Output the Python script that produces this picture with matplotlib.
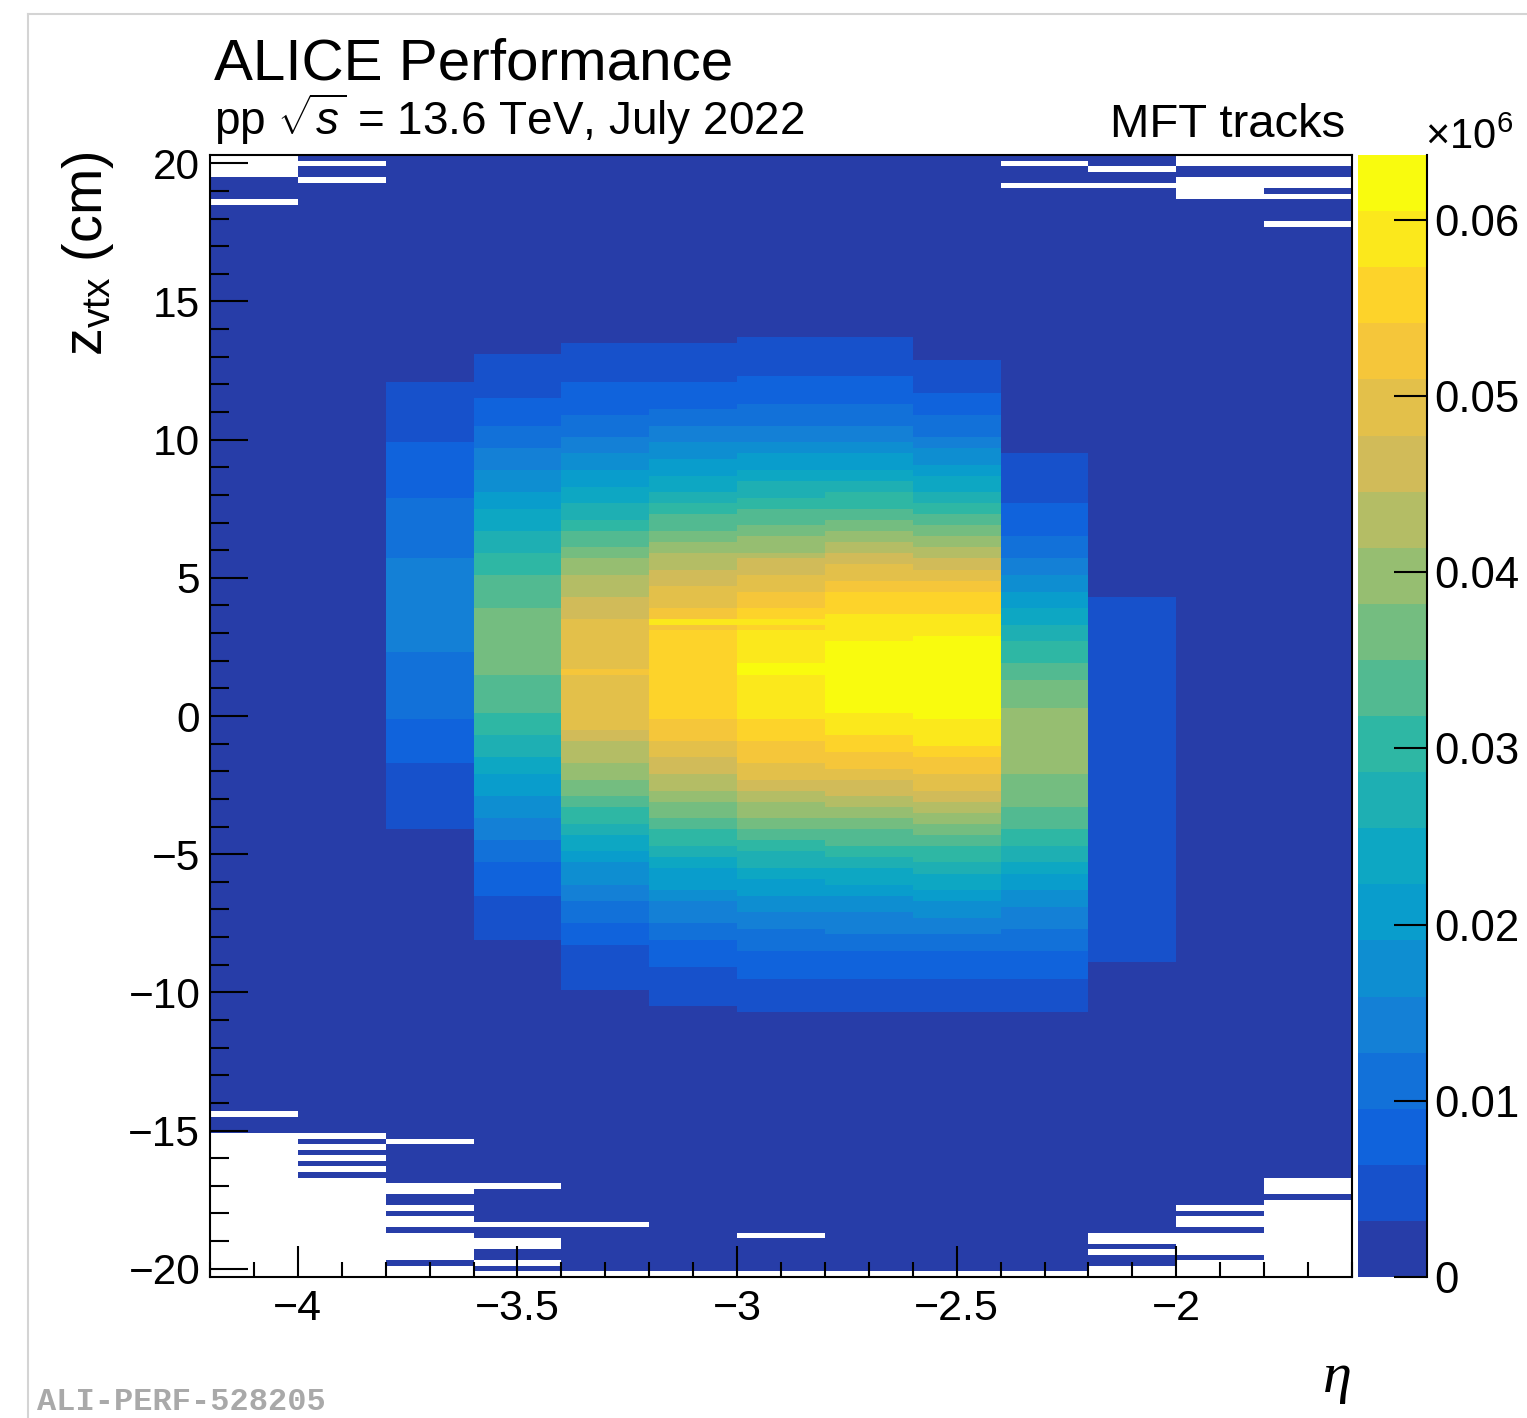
import numpy as np
import matplotlib
matplotlib.use("Agg")
import matplotlib.pyplot as plt
from matplotlib.colors import ListedColormap, BoundaryNorm
from matplotlib.lines import Line2D

plt.rcParams['font.family'] = ['Liberation Sans', 'DejaVu Sans']
plt.rcParams['mathtext.fontset'] = 'custom'
plt.rcParams['mathtext.rm'] = 'Liberation Sans'
plt.rcParams['mathtext.it'] = 'Liberation Sans:italic'
plt.rcParams['mathtext.bf'] = 'Liberation Sans:bold'

# ---------------- data ----------------
eta_edges = np.round(np.arange(-4.2, -1.59, 0.2), 2)      # 13 eta bins
zvtx_edges = np.round(np.arange(-20.3, 20.31, 0.2), 2)    # 203 z bins
zmax = 0.06368  # colour scale maximum (x10^6 counts)

# per eta column: z values (cm, descending) where the count level changes,
# and the counts (x10^3) of each band from top to bottom
cuts_c0 = []
cnt_c0 = [1.6]
cuts_c1 = []
cnt_c1 = [1.6]
cuts_c2 = [12.1, 9.9, 7.9, 5.7, 2.3, -0.1, -1.7, -4.1]
cnt_c2 = [1.6, 4.8, 8.0, 11.1, 14.3, 11.1, 8.0, 4.8, 1.6]
cuts_c3 = [13.1, 11.5, 10.5, 9.7, 8.9, 8.1, 7.5, 6.7, 5.9, 5.1, 3.9, 1.5, 0.1,
           -0.7, -1.5, -2.1, -2.9, -3.7, -4.5, -5.3, -6.5, -8.1]
cnt_c3 = [1.6, 4.8, 8.0, 11.1, 14.3, 17.5, 20.7, 23.9, 27.1, 30.2, 33.4, 36.6,
          33.4, 30.2, 27.1, 23.9, 20.7, 17.5, 14.3, 11.1, 8.0, 4.8, 1.6]
cuts_c4 = [13.5, 12.1, 10.9, 10.1, 9.5, 8.9, 8.3, 7.7, 7.1, 6.7, 6.1, 5.7, 5.1,
           4.3, 3.5, 1.7, 1.5, -0.5, -0.9, -1.7, -2.3, -2.9, -3.3, -3.9, -4.3,
           -4.9, -5.3, -6.1, -6.7, -7.5, -8.3, -9.9]
cnt_c4 = [1.6, 4.8, 8.0, 11.1, 14.3, 17.5, 20.7, 23.9, 27.1, 30.2, 33.4, 36.6,
          39.8, 43.0, 46.2, 49.4, 52.5, 49.4, 46.2, 43.0, 39.8, 36.6, 33.4,
          30.2, 27.1, 23.9, 20.7, 17.5, 14.3, 11.1, 8.0, 4.8, 1.6]
cuts_c5 = [13.5, 12.1, 11.1, 10.5, 9.9, 9.3, 8.7, 8.1, 7.7, 7.3, 6.7, 6.3, 5.9,
           5.3, 4.7, 3.9, 3.5, 3.3, 3.1, -0.1, -0.9, -1.5, -2.1, -2.7, -3.1,
           -3.7, -4.1, -4.7, -5.1, -5.5, -6.3, -6.7, -7.5, -8.1, -9.1, -10.5]
cnt_c5 = [1.6, 4.8, 8.0, 11.1, 14.3, 17.5, 20.7, 23.9, 27.1, 30.2, 33.4, 36.6,
          39.8, 43.0, 46.2, 49.4, 52.5, 58.9, 52.5, 55.7, 52.5, 49.4, 46.2,
          43.0, 39.8, 36.6, 33.4, 30.2, 27.1, 23.9, 20.7, 17.5, 14.3, 11.1,
          8.0, 4.8, 1.6]
cuts_c6 = [13.7, 12.3, 11.3, 10.5, 9.9, 9.5, 8.9, 8.5, 7.9, 7.5, 6.9, 6.5, 5.9,
           5.7, 5.1, 4.5, 3.9, 3.5, 3.3, 3.1, 1.9, 1.5, -0.1, -0.9, -1.7, -2.3,
           -2.7, -3.1, -3.7, -4.1, -4.5, -4.9, -5.5, -5.9, -6.5, -7.1, -7.7,
           -8.5, -9.5, -10.7]
cnt_c6 = [1.6, 4.8, 8.0, 11.1, 14.3, 17.5, 20.7, 23.9, 27.1, 30.2, 33.4, 36.6,
          39.8, 43.0, 46.2, 49.4, 52.5, 55.7, 58.9, 55.7, 58.9, 62.1, 58.9,
          55.7, 52.5, 49.4, 46.2, 43.0, 39.8, 36.6, 33.4, 30.2, 27.1, 23.9,
          20.7, 17.5, 14.3, 11.1, 8.0, 4.8, 1.6]
cuts_c7 = [13.7, 12.3, 11.3, 10.5, 9.9, 9.5, 8.9, 8.5, 8.1, 7.5, 7.1, 6.7, 6.3,
           5.9, 5.5, 4.9, 4.5, 3.7, 2.7, 0.1, -0.7, -1.3, -1.9, -2.3, -2.9,
           -3.3, -3.7, -4.1, -4.7, -5.1, -5.5, -6.1, -6.5, -7.1, -7.9, -8.5,
           -9.5, -10.7]
cnt_c7 = [1.6, 4.8, 8.0, 11.1, 14.3, 17.5, 20.7, 23.9, 27.1, 30.2, 33.4, 36.6,
          39.8, 43.0, 46.2, 49.4, 52.5, 55.7, 58.9, 62.1, 58.9, 55.7, 52.5,
          49.4, 46.2, 43.0, 39.8, 36.6, 33.4, 30.2, 27.1, 23.9, 20.7, 17.5,
          14.3, 11.1, 8.0, 4.8, 1.6]
cuts_c8 = [12.9, 11.7, 10.9, 10.1, 9.7, 9.1, 8.7, 8.1, 7.7, 7.3, 6.9, 6.5, 6.1,
           5.7, 5.3, 4.9, 4.5, 3.7, 2.9, -0.1, -1.1, -1.5, -2.1, -2.7, -3.1,
           -3.5, -3.9, -4.3, -4.7, -5.3, -5.7, -6.3, -6.7, -7.3, -7.9, -8.5,
           -9.5, -10.7]
cnt_c8 = [1.6, 4.8, 8.0, 11.1, 14.3, 17.5, 20.7, 23.9, 27.1, 30.2, 33.4, 36.6,
          39.8, 43.0, 46.2, 49.4, 52.5, 55.7, 58.9, 62.1, 58.9, 55.7, 52.5,
          49.4, 46.2, 43.0, 39.8, 36.6, 33.4, 30.2, 27.1, 23.9, 20.7, 17.5,
          14.3, 11.1, 8.0, 4.8, 1.6]
cuts_c9 = [9.5, 7.7, 6.5, 5.7, 5.1, 4.5, 3.9, 3.3, 2.7, 1.9, 1.3, 0.3, -2.1,
           -3.3, -4.1, -4.7, -5.3, -5.7, -6.3, -6.9, -7.7, -8.5, -9.5, -10.7]
cnt_c9 = [1.6, 4.8, 8.0, 11.1, 14.3, 17.5, 20.7, 23.9, 27.1, 30.2, 33.4, 36.6,
          39.8, 36.6, 33.4, 30.2, 27.1, 23.9, 20.7, 17.5, 14.3, 11.1, 8.0,
          4.8, 1.6]
cuts_c10 = [4.3, -8.9]
cnt_c10 = [1.6, 4.8, 1.6]
cuts_c11 = []
cnt_c11 = [1.6]
cuts_c12 = []
cnt_c12 = [1.6]

# empty (zero-count) z ranges per eta column
empty_c0 = [(19.5, 20.3), (18.5, 18.7), (-14.5, -14.3), (-20.3, -15.1)]
empty_c1 = [(19.9, 20.1), (19.3, 19.5), (-15.3, -15.1), (-15.7, -15.5),
            (-16.1, -15.9), (-16.5, -16.3), (-20.3, -16.7)]
empty_c2 = [(-15.5, -15.3), (-17.3, -16.9), (-17.9, -17.7), (-18.5, -18.1),
            (-19.7, -18.7), (-20.3, -19.9)]
empty_c3 = [(-17.1, -16.9), (-18.5, -18.3), (-19.3, -18.9), (-19.9, -19.7),
            (-20.3, -20.1)]
empty_c4 = [(-18.5, -18.3), (-20.3, -20.1)]
empty_c5 = [(-20.3, -20.1)]
empty_c6 = [(-18.9, -18.7), (-20.3, -20.1)]
empty_c7 = [(-20.3, -20.1)]
empty_c8 = [(-20.3, -20.1)]
empty_c9 = [(19.9, 20.1), (19.1, 19.3), (-20.3, -20.1)]
empty_c10 = [(19.7, 19.9), (19.1, 19.3), (-19.1, -18.7), (-19.5, -19.3),
             (-20.3, -19.9)]
empty_c11 = [(19.9, 20.3), (18.7, 19.5), (-17.9, -17.7), (-18.5, -18.1),
             (-19.5, -18.7), (-20.3, -19.7)]
empty_c12 = [(19.9, 20.3), (19.1, 19.5), (18.7, 18.9), (17.7, 17.9),
             (-17.3, -16.7), (-20.3, -17.5)]

xticks = [-4, -3.5, -3, -2.5, -2]
xticklabels = ['\u22124', '\u22123.5', '\u22123', '\u22122.5', '\u22122']
yticks = [-20, -15, -10, -5, 0, 5, 10, 15, 20]
yticklabels = ['\u221220', '\u221215', '\u221210', '\u22125', '0', '5', '10', '15', '20']
cbar_ticks = [0, 0.01, 0.02, 0.03, 0.04, 0.05, 0.06]
cbar_ticklabels = ['0', '0.01', '0.02', '0.03', '0.04', '0.05', '0.06']

# ---------------- build histogram ----------------
columns = [
    (cuts_c0, cnt_c0, empty_c0), (cuts_c1, cnt_c1, empty_c1),
    (cuts_c2, cnt_c2, empty_c2), (cuts_c3, cnt_c3, empty_c3),
    (cuts_c4, cnt_c4, empty_c4), (cuts_c5, cnt_c5, empty_c5),
    (cuts_c6, cnt_c6, empty_c6), (cuts_c7, cnt_c7, empty_c7),
    (cuts_c8, cnt_c8, empty_c8), (cuts_c9, cnt_c9, empty_c9),
    (cuts_c10, cnt_c10, empty_c10), (cuts_c11, cnt_c11, empty_c11),
    (cuts_c12, cnt_c12, empty_c12),
]
zc = 0.5 * (zvtx_edges[:-1] + zvtx_edges[1:])
H = np.full((len(zc), len(eta_edges) - 1), np.nan)
for j, (cuts, cnts, empt) in enumerate(columns):
    asc = np.array(cuts[::-1], dtype=float)
    idx = len(cuts) - np.searchsorted(asc, zc, side='right')
    col = np.array(cnts, dtype=float)[idx]
    for lo, hi in empt:
        col[(zc > lo) & (zc < hi)] = np.nan
    H[:, j] = col
H = np.ma.masked_invalid(H / 1000.0)   # x10^6 counts

# ROOT kBird palette, 20 contour colours
stops = np.array([0.0, 0.125, 0.25, 0.375, 0.5, 0.625, 0.75, 0.875, 1.0])
red = [0.2082, 0.0592, 0.0780, 0.0232, 0.1802, 0.5301, 0.8186, 0.9956, 0.9764]
green = [0.1664, 0.3599, 0.5041, 0.6419, 0.7178, 0.7492, 0.7328, 0.7862, 0.9832]
blue = [0.5293, 0.8684, 0.8385, 0.7914, 0.6425, 0.4662, 0.3499, 0.1968, 0.0539]
ncont = 20
tpos = np.array([int((i + 0.99) * 255 / ncont) for i in range(ncont)]) / 254.0
cols = np.stack([np.interp(tpos, stops, red), np.interp(tpos, stops, green),
                 np.interp(tpos, stops, blue)], axis=1)
cmap = ListedColormap(cols)
norm = BoundaryNorm(np.linspace(0, zmax, ncont + 1), ncont)

# ---------------- figure ----------------
W, Hpx = 1527, 1418
fig = plt.figure(figsize=(W / 100, Hpx / 100), dpi=100)

def fx(x):
    return x / W

def fy(y):
    return 1 - y / Hpx

ax = fig.add_axes([fx(210), fy(1277), fx(1352) - fx(210), fy(155) - fy(1277)])
mesh = ax.pcolormesh(eta_edges, zvtx_edges, H, cmap=cmap, norm=norm,
                     shading='flat', linewidth=0, antialiased=False)
ax.set_xlim(-4.2, -1.6)
ax.set_ylim(-20.3, 20.3)
ax.set_facecolor('white')

ax.set_xticks(xticks)
ax.set_xticklabels(xticklabels)
ax.set_xticks(np.round(np.arange(-4.2, -1.59, 0.1), 2), minor=True)
ax.set_yticks(yticks)
ax.set_yticklabels(yticklabels)
ax.set_yticks(np.arange(-20, 21, 1), minor=True)
ax.tick_params(axis='x', which='major', direction='in', length=22, width=1.5,
               labelsize=31, pad=9, top=False)
ax.tick_params(axis='x', which='minor', direction='in', length=11, width=1.5, top=False)
ax.tick_params(axis='y', which='major', direction='in', length=27, width=1.5,
               labelsize=30.5, pad=7, right=False)
ax.tick_params(axis='y', which='minor', direction='in', length=13.5, width=1.5, right=False)
for s in ax.spines.values():
    s.set_linewidth(1.5)

# colour bar
cax = fig.add_axes([fx(1358), fy(1277), fx(1427) - fx(1358), fy(155) - fy(1277)])
cb = fig.colorbar(mesh, cax=cax, ticks=cbar_ticks, spacing='proportional')
cb.set_ticklabels(cbar_ticklabels)
cb.outline.set_visible(False)
cax.tick_params(axis='y', which='both', direction='in', length=24, width=1.5,
                labelsize=31.5, pad=5, right=True, left=False)
cax.minorticks_off()
cax.plot([1, 1], [0, 1], transform=cax.transAxes, color='black', lw=1.5,
         clip_on=False)
fig.text(fx(1425), fy(149), r'$\times10^{6}$', fontsize=30, ha='left', va='baseline')

# texts
fig.text(fx(214), fy(80), 'ALICE Performance', fontsize=42, ha='left', va='baseline')
fig.text(fx(214), fy(135), r'pp $\sqrt{s}$ = 13.6 TeV, July 2022', fontsize=33,
         ha='left', va='baseline')
fig.text(fx(1345), fy(137), 'MFT tracks', fontsize=34, ha='right', va='baseline')
fig.text(fx(88), fy(152), r'$\mathrm{z}_{\mathrm{vtx}}$ (cm)', fontsize=40,
         rotation=90, ha='center', va='top')
fig.text(fx(1352), fy(1378), '\u03b7', fontsize=42, ha='right', va='center',
         family='Liberation Serif', style='italic')
fig.text(fx(37), fy(1410), 'ALI-PERF-528205', fontsize=23, ha='left', va='baseline',
         family='Liberation Mono', weight='bold', color='#a9a9a9')

# page border
fig.add_artist(Line2D([fx(28), fx(28)], [fy(14), 0], color='#d4d4d4', lw=1.5))
fig.add_artist(Line2D([fx(28), 1], [fy(14), fy(14)], color='#d4d4d4', lw=1.5))

fig.savefig('out.png', dpi=100)
